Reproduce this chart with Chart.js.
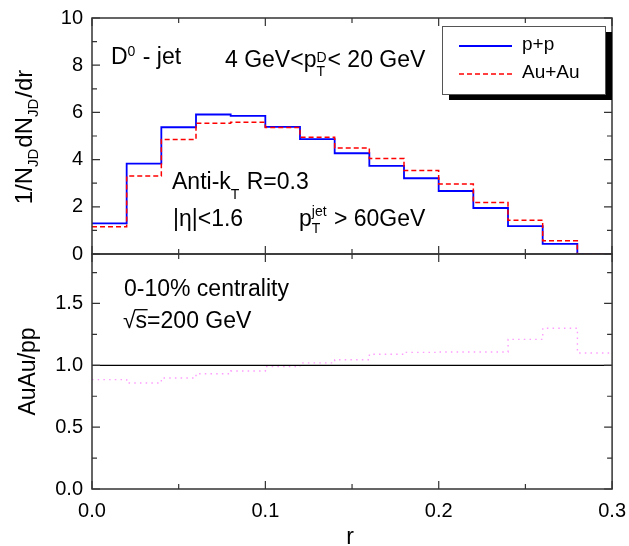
<!DOCTYPE html>
<html>
<head>
<meta charset="utf-8">
<script src="https://cdn.jsdelivr.net/npm/chart.js@4.4.1/dist/chart.umd.min.js"></script>
<style>
  body { margin: 0; background: #fff; overflow: hidden; }
  #wrap { position: relative; width: 629px; height: 546px; overflow: hidden; }
  canvas { position: absolute; left: 0; }
  #top { top: -3px; }
  #bottom { top: 230px; }
</style>
</head>
<body>
<div id="wrap">
  <canvas id="top" width="629" height="278"></canvas>
  <canvas id="bottom" width="636" height="316"></canvas>
</div>
<script>
// histogram bins in r, 0.02 wide
const binEdges = [0, 0.02, 0.04, 0.06, 0.08, 0.10, 0.12, 0.14, 0.16, 0.18, 0.20, 0.22, 0.24, 0.26, 0.28, 0.30];
const ppValues = [1.30, 3.83, 5.37, 5.91, 5.85, 5.39, 4.87, 4.27, 3.73, 3.21, 2.67, 1.95, 1.18, 0.43, 0.0];
const auauValues = [1.15, 3.30, 4.85, 5.54, 5.58, 5.36, 4.95, 4.49, 4.05, 3.54, 2.97, 2.18, 1.43, 0.56, 0.0];
const ratioValues = [0.884, 0.857, 0.897, 0.932, 0.954, 0.99, 1.02, 1.045, 1.09, 1.105, 1.108, 1.108, 1.21, 1.30, 1.10];

const rTicks = [0, 0.1, 0.2, 0.3];
const topTicks = [0, 2, 4, 6, 8, 10];
const ratioTicks = [0, 0.5, 1.0, 1.5];

const FONT = '"Liberation Sans", Arial, sans-serif';
const TOP_OFF = -3;   // page y of top canvas
const BOT_OFF = 230;  // page y of bottom canvas

function steps(values) {
    let pts = values.map((v, i) => ({x: binEdges[i], y: v}));
    pts.push({x: binEdges[binEdges.length - 1], y: values[values.length - 1]});
    return pts;
}

// draws text with sub/superscripts, returns width
function richText(ctx, parts, x, y, size, draw) {
    const small = Math.round(size * 0.62);
    let cx = x;
    for (const p of parts) {
        if (p.t !== undefined) {
            ctx.font = size + 'px ' + FONT;
            if (draw) ctx.fillText(p.t, cx, y);
            cx += ctx.measureText(p.t).width;
        } else {
            ctx.font = small + 'px ' + FONT;
            let w = 0;
            if (p.sup) {
                if (draw) ctx.fillText(p.sup, cx, y + p.supDy);
                w = ctx.measureText(p.sup).width;
            }
            if (p.sub) {
                if (draw) ctx.fillText(p.sub, cx, y + p.subDy);
                w = Math.max(w, ctx.measureText(p.sub).width);
            }
            cx += w + 1;
        }
    }
    return cx - x;
}

function minorsOf(ticks, max) {
    let out = [];
    const step = ticks[1] - ticks[0];
    for (let v = ticks[0] + step / 2; v < max; v += step) out.push(v);
    return out;
}

// box + inward ticks on all four sides
const framePlugin = {
    id: 'frame',
    afterDatasetsDraw(chart, args, opts) {
        const {ctx, chartArea: a, scales} = chart;
        const xs = scales.x, ys = scales.y;
        ctx.save();
        ctx.strokeStyle = '#333';
        ctx.lineWidth = 1.2;
        ctx.beginPath();
        function xt(list, len) {
            list.forEach(v => {
                const px = xs.getPixelForValue(v);
                ctx.moveTo(px, a.top); ctx.lineTo(px, a.top + len);
                ctx.moveTo(px, a.bottom); ctx.lineTo(px, a.bottom - len);
            });
        }
        function yt(list, len) {
            list.forEach(v => {
                const py = ys.getPixelForValue(v);
                ctx.moveTo(a.left, py); ctx.lineTo(a.left + len, py);
                ctx.moveTo(a.right, py); ctx.lineTo(a.right - len, py);
            });
        }
        xt(rTicks, 8); xt(minorsOf(rTicks, xs.max), 5);
        yt(opts.yTicks, 8); yt(minorsOf(opts.yTicks, ys.max), 5);
        ctx.stroke();
        ctx.lineWidth = 1.5;
        ctx.strokeRect(a.left, a.top, a.right - a.left, a.bottom - a.top);
        ctx.restore();
    }
};

const topTextPlugin = {
    id: 'topText',
    afterDraw(chart) {
        const {ctx, chartArea: a} = chart;
        const ds = chart.data.datasets;
        const o = -TOP_OFF;
        ctx.save();
        ctx.fillStyle = '#000';
        ctx.textBaseline = 'alphabetic';
        ctx.textAlign = 'left';
        richText(ctx, [{t: 'D'}, {sup: '0', supDy: -8}, {t: ' - jet'}], 111, 64 + o, 23, true);
        richText(ctx, [{t: '4 GeV<p'}, {sup: 'D', supDy: -5, sub: 'T', subDy: 9}, {t: '< 20 GeV'}], 225, 67 + o, 23, true);
        richText(ctx, [{t: 'Anti-k'}, {sub: 'T', subDy: 10}, {t: ' R=0.3'}], 172, 189 + o, 23, true);
        richText(ctx, [{t: '|\u03b7|<1.6'}], 173, 226 + o, 23, true);
        richText(ctx, [{t: 'p'}, {sup: 'jet', supDy: -10, sub: 'T', subDy: 7}, {t: ' > 60GeV'}], 299, 226 + o, 23, true);

        // y title
        const parts = [{t: '1/N'}, {sub: 'JD', subDy: 6}, {t: 'dN'}, {sub: 'JD', subDy: 6}, {t: '/dr'}];
        ctx.save();
        ctx.translate(32, (a.top + a.bottom) / 2 + 1);
        ctx.rotate(-Math.PI / 2);
        const w = richText(ctx, parts, 0, 0, 24, false);
        richText(ctx, parts, -w / 2, 0, 24, true);
        ctx.restore();

        // legend with drop shadow
        const bx = a.right - 170, by = a.top + 8, bw = 163, bh = 68;
        ctx.fillStyle = '#000';
        ctx.fillRect(bx + 7, by + 6, bw, bh);
        ctx.fillStyle = '#fff';
        ctx.fillRect(bx, by, bw, bh);
        ctx.strokeStyle = '#555';
        ctx.lineWidth = 1;
        ctx.strokeRect(bx + 0.5, by + 0.5, bw, bh);
        ds.forEach((d, i) => {
            const ly = by + 20 + i * 28;
            ctx.beginPath();
            ctx.strokeStyle = d.borderColor;
            ctx.lineWidth = d.borderWidth;
            ctx.setLineDash(d.borderDash || []);
            ctx.moveTo(bx + 17, ly);
            ctx.lineTo(bx + 70, ly);
            ctx.stroke();
            ctx.setLineDash([]);
            ctx.fillStyle = '#000';
            ctx.font = '19px ' + FONT;
            ctx.fillText(d.label, bx + 80, ly + 4);
        });
        ctx.restore();
    }
};

const bottomTextPlugin = {
    id: 'bottomText',
    afterDraw(chart) {
        const {ctx, chartArea: a} = chart;
        const off = BOT_OFF;
        ctx.save();
        ctx.fillStyle = '#000';
        ctx.textAlign = 'left';
        ctx.textBaseline = 'alphabetic';
        ctx.font = '23px ' + FONT;
        ctx.fillText('0-10% centrality', 124, 296 - off);
        // sqrt(s) with a bar over s
        const sx = 123, sy = 328 - off;
        ctx.fillText('\u221a', sx, sy);
        const m = ctx.measureText('\u221a');
        const rw = m.width;
        ctx.fillText('s=200 GeV', sx + rw, sy);
        const swid = ctx.measureText('s').width;
        ctx.strokeStyle = '#000';
        ctx.lineWidth = 1.3;
        ctx.beginPath();
        const top = sy - m.actualBoundingBoxAscent + 0.7;
        ctx.moveTo(sx + rw - 1, top);
        ctx.lineTo(sx + rw + swid + 0.5, top);
        ctx.stroke();

        // y title
        ctx.save();
        ctx.translate(35, (a.top + a.bottom) / 2);
        ctx.rotate(-Math.PI / 2);
        ctx.textAlign = 'center';
        ctx.font = '23px ' + FONT;
        ctx.fillText('AuAu/pp', 0, 0);
        ctx.restore();

        // x title
        ctx.textAlign = 'center';
        ctx.font = '23px ' + FONT;
        ctx.fillText('r', (a.left + a.right) / 2 - 2, 544 - off);
        ctx.restore();
    }
};

const tickFont = {family: FONT, size: 20};

new Chart(document.getElementById('top'), {
    type: 'line',
    data: {
        datasets: [
            {label: 'p+p', data: steps(ppValues), borderColor: '#0000ff', borderWidth: 1.8,
             stepped: 'before', pointRadius: 0, fill: false, order: 2},
            {label: 'Au+Au', data: steps(auauValues), borderColor: '#ff0000', borderWidth: 1.5,
             borderDash: [5, 3], stepped: 'before', pointRadius: 0, fill: false, order: 1}
        ]
    },
    options: {
        responsive: false,
        animation: false,
        devicePixelRatio: 1,
        layout: {padding: {top: 0, right: 17, bottom: 0, left: 0}},
        plugins: {legend: {display: false}, tooltip: {enabled: false}, frame: {yTicks: topTicks}},
        scales: {
            x: {type: 'linear', min: 0, max: 0.3, display: false},
            y: {
                min: 0, max: 10,
                afterBuildTicks: s => { s.ticks = topTicks.map(v => ({value: v})); },
                afterFit: s => { s.width = 92; },
                grid: {display: false, drawTicks: false},
                border: {display: false},
                ticks: {font: tickFont, color: '#000', padding: 9}
            }
        }
    },
    plugins: [framePlugin, topTextPlugin]
});

new Chart(document.getElementById('bottom'), {
    type: 'line',
    data: {
        datasets: [
            {label: 'AuAu/pp', data: steps(ratioValues), borderColor: '#ff9cff', borderWidth: 1.4,
             borderDash: [1.5, 4.2], stepped: 'before', pointRadius: 0, fill: false, order: 2},
            {label: 'unity', data: [{x: rTicks[0], y: 1}, {x: rTicks[rTicks.length - 1], y: 1}],
             borderColor: '#000', borderWidth: 1.2, pointRadius: 0, fill: false, order: 1}
        ]
    },
    options: {
        responsive: false,
        animation: false,
        devicePixelRatio: 1,
        layout: {padding: {top: 24, right: 0, bottom: 0, left: 0}},
        plugins: {legend: {display: false}, tooltip: {enabled: false}, frame: {yTicks: ratioTicks}},
        scales: {
            x: {
                type: 'linear', min: 0, max: 0.3,
                afterBuildTicks: s => { s.ticks = rTicks.map(v => ({value: v})); },
                afterFit: s => { s.height = 57; },
                grid: {display: false, drawTicks: false},
                border: {display: false},
                ticks: {font: tickFont, color: '#000', padding: 10, maxRotation: 0,
                        callback: v => v.toFixed(1)}
            },
            y: {
                min: 0, max: 1.9,
                afterBuildTicks: s => { s.ticks = ratioTicks.map(v => ({value: v})); },
                afterFit: s => { s.width = 92; },
                grid: {display: false, drawTicks: false},
                border: {display: false},
                ticks: {font: tickFont, color: '#000', padding: 9, callback: v => v.toFixed(1)}
            }
        }
    },
    plugins: [framePlugin, bottomTextPlugin]
});
</script>
</body>
</html>
